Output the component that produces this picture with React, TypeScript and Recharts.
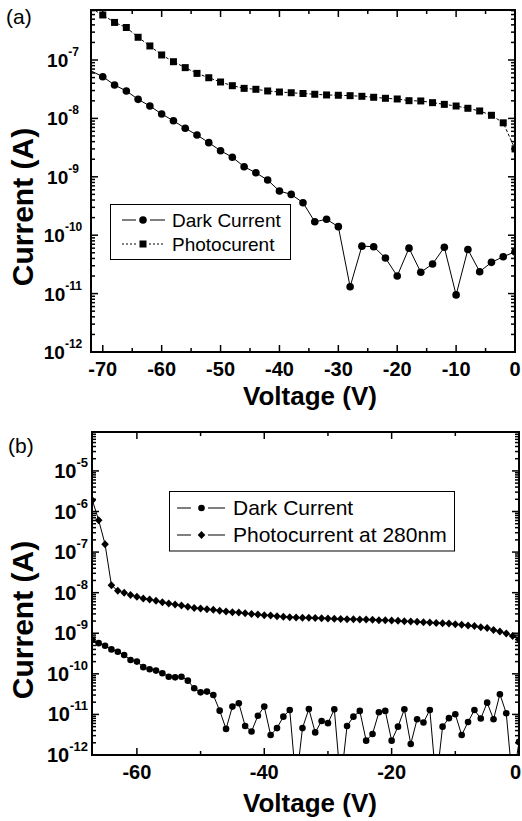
import React from 'react';
import { LineChart, Line, XAxis, YAxis } from 'recharts';

const FONT = "'Liberation Sans', Arial, Helvetica, sans-serif";

// ---------- Panel (a) ----------
const voltageA = [-72, -70, -68, -66, -64, -62, -60, -58, -56, -54, -52, -50, -48, -46, -44, -42, -40, -38, -36, -34, -32, -30, -28, -26, -24, -22, -20, -18, -16, -14, -12, -10, -8, -6, -4, -2, 0];
const darkCurrentA = [6.5e-8, 5.18e-8, 3.73e-8, 2.95e-8, 2.12e-8, 1.63e-8, 1.19e-8, 9.1e-9, 6.77e-9, 5.2e-9, 3.84e-9, 2.8e-9, 2.16e-9, 1.49e-9, 1.17e-9, 8.8e-10, 5.7e-10, 5.0e-10, 3.6e-10, 1.7e-10, 1.87e-10, 1.4e-10, 1.31e-11, 6.5e-11, 6.36e-11, 4.07e-11, 2.0e-11, 6.0e-11, 2.32e-11, 3.21e-11, 6.2e-11, 9.5e-12, 5.7e-11, 2.37e-11, 3.43e-11, 4.28e-11, 5.2e-11];
const photocurrentA = [7.7e-7, 5.9e-7, 4.4e-7, 3.6e-7, 2.45e-7, 1.74e-7, 1.22e-7, 9.35e-8, 7.4e-8, 5.9e-8, 4.97e-8, 4.2e-8, 3.63e-8, 3.27e-8, 3.15e-8, 2.95e-8, 2.83e-8, 2.75e-8, 2.67e-8, 2.59e-8, 2.52e-8, 2.49e-8, 2.45e-8, 2.39e-8, 2.3e-8, 2.21e-8, 2.15e-8, 2.01e-8, 1.99e-8, 1.86e-8, 1.74e-8, 1.63e-8, 1.49e-8, 1.34e-8, 1.13e-8, 8.4e-9, 3.0e-9];
const xMajorA = [-70, -60, -50, -40, -30, -20, -10, 0];
const xMinorA = [-65, -55, -45, -35, -25, -15, -5];
const yMajorA = [1e-12, 1e-11, 1e-10, 1e-9, 1e-8, 1e-7];
const domainXA: [number, number] = [-72, 0];
const domainYA: [number, number] = [1e-12, 7.18e-7];

// ---------- Panel (b) ----------
const voltageB = [-67, -66, -65, -64, -63, -62, -61, -60, -59, -58, -57, -56, -55, -54, -53, -52, -51, -50, -49, -48, -47, -46, -45, -44, -43, -42, -41, -40, -39, -38, -37, -36, -35, -34, -33, -32, -31, -30, -29, -28, -27, -26, -25, -24, -23, -22, -21, -20, -19, -18, -17, -16, -15, -14, -13, -12, -11, -10, -9, -8, -7, -6, -5, -4, -3, -2, -1, 0];
const darkCurrentB = [6.8e-10, 5.7e-10, 4.9e-10, 4.0e-10, 3.5e-10, 2.9e-10, 2.2e-10, 2.0e-10, 1.46e-10, 1.3e-10, 1.2e-10, 1.03e-10, 8.5e-11, 8.2e-11, 8.5e-11, 6.8e-11, 4.4e-11, 3.5e-11, 3.65e-11, 3.0e-11, 1.24e-11, 4.4e-12, 1.56e-11, 1.89e-11, 5.2e-12, 3.8e-12, 9.3e-12, 1.56e-11, 3.1e-12, 4.6e-12, 8.8e-12, 1.29e-11, 2e-13, 4.6e-12, 1.36e-11, 3.6e-12, 6.9e-12, 6.1e-12, 1.34e-11, 2e-13, 5.2e-12, 8.8e-12, 1.22e-11, 2.26e-12, 3.3e-12, 1.13e-11, 1.22e-11, 2.26e-12, 5.0e-12, 1.34e-11, 1.87e-12, 7.6e-12, 6.3e-12, 1.29e-11, 2e-13, 5.0e-12, 8.1e-12, 1.01e-11, 3.1e-12, 6.5e-12, 1.29e-11, 7.9e-12, 1.95e-11, 7.6e-12, 3.15e-11, 1.07e-11, 2e-13, 2.1e-12];
const photocurrentB = [1.9e-6, 6.1e-7, 1.57e-7, 1.53e-8, 1.11e-8, 9.9e-9, 8.8e-9, 7.9e-9, 7.2e-9, 6.8e-9, 6.3e-9, 5.8e-9, 5.4e-9, 5.1e-9, 4.8e-9, 4.5e-9, 4.2e-9, 4.1e-9, 3.9e-9, 3.77e-9, 3.56e-9, 3.44e-9, 3.31e-9, 3.25e-9, 3.12e-9, 3.0e-9, 2.9e-9, 2.79e-9, 2.74e-9, 2.64e-9, 2.54e-9, 2.49e-9, 2.45e-9, 2.42e-9, 2.4e-9, 2.36e-9, 2.33e-9, 2.32e-9, 2.27e-9, 2.25e-9, 2.22e-9, 2.2e-9, 2.19e-9, 2.17e-9, 2.14e-9, 2.1e-9, 2.08e-9, 2.06e-9, 2.02e-9, 1.98e-9, 1.95e-9, 1.91e-9, 1.88e-9, 1.84e-9, 1.8e-9, 1.77e-9, 1.74e-9, 1.67e-9, 1.61e-9, 1.56e-9, 1.5e-9, 1.41e-9, 1.34e-9, 1.21e-9, 1.11e-9, 9.9e-10, 8.5e-10, 7.0e-10];
const xMajorB = [-60, -40, -20, 0];
const xMinorB = [-50, -30, -10];
const yMajorB = [1e-12, 1e-11, 1e-10, 1e-9, 1e-8, 1e-7, 1e-6, 1e-5];
const domainXB: [number, number] = [-67.05, 0];
const domainYB: [number, number] = [1e-12, 9.1e-5];

const dataA = voltageA.map((v, i) => ({ v, dark: darkCurrentA[i], photo: photocurrentA[i] }));
const dataB = voltageB.map((v, i) => ({ v, dark: darkCurrentB[i], photo: photocurrentB[i] }));

function logTicks(majors: number[], top: number) {
  const out: number[] = [];
  majors.forEach((m) => {
    out.push(m);
    for (let k = 2; k <= 9; k++) {
      const val = Number((k * m).toPrecision(3));
      if (val < top) out.push(val);
    }
  });
  return out;
}

const isMajorLog = (v: number) => {
  const lg = Math.log10(v);
  return Math.abs(lg - Math.round(lg)) < 1e-6;
};

const AXIS_LINE = { stroke: '#000', strokeWidth: 2, strokeLinecap: 'square' as const };

function xTick(majors: number[], where: 'bottom' | 'top', fontSize: number) {
  return (p: any) => {
    const v = p.payload.value;
    const maj = majors.includes(v);
    const len = maj ? 7 : 4;
    const dir = where === 'bottom' ? -1 : 1;
    // keep the label inside the 522px page
    const half = String(v).length * fontSize * 0.3;
    const nearEdge = p.x + half > 521;
    return (
      <g key={`xt-${where}-${v}`}>
        <line x1={p.x} x2={p.x} y1={p.y} y2={p.y + dir * len} stroke="#000" strokeWidth={1.5} />
        {where === 'bottom' && maj ? (
          <text x={nearEdge ? 521 : p.x} y={p.y + 24} textAnchor={nearEdge ? 'end' : 'middle'} fontFamily={FONT}
            fontWeight="bold" fontSize={fontSize} fill="#000">
            {String(v)}
          </text>
        ) : null}
      </g>
    );
  };
}

function yTick(where: 'left' | 'right', labelX: number, anchor: 'middle' | 'end', big: number, small: number) {
  return (p: any) => {
    const v = p.payload.value;
    const maj = isMajorLog(v);
    const len = maj ? 7 : 4;
    const dir = where === 'left' ? 1 : -1;
    return (
      <g key={`yt-${where}-${v}`}>
        <line x1={p.x} x2={p.x + dir * len} y1={p.y} y2={p.y} stroke="#000" strokeWidth={1.5} />
        {where === 'left' && maj ? (
          <text x={labelX} y={p.y + 7} textAnchor={anchor} fontFamily={FONT} fontWeight="bold" fill="#000">
            <tspan fontSize={big}>10</tspan>
            <tspan fontSize={small} dy={-11}>{String(Math.round(Math.log10(v)))}</tspan>
          </text>
        ) : null}
      </g>
    );
  };
}

function circleDot(r: number, hideBelow: number) {
  return (p: any) => {
    const k = `c-${p.index}`;
    if (p.cx == null || p.cy == null || p.payload.v < hideBelow) return <g key={k} />;
    return <circle key={k} cx={p.cx} cy={p.cy} r={r} fill="#000" />;
  };
}
function squareDot(s: number, hideBelow: number) {
  return (p: any) => {
    const k = `s-${p.index}`;
    if (p.cx == null || p.cy == null || p.payload.v < hideBelow) return <g key={k} />;
    return <rect key={k} x={p.cx - s / 2} y={p.cy - s / 2} width={s} height={s} fill="#000" />;
  };
}
function diamondDot(w: number, h: number) {
  return (p: any) => {
    const k = `d-${p.index}`;
    if (p.cx == null || p.cy == null) return <g key={k} />;
    const pts = `${p.cx},${p.cy - h} ${p.cx + w},${p.cy} ${p.cx},${p.cy + h} ${p.cx - w},${p.cy}`;
    return <polygon key={k} points={pts} fill="#000" />;
  };
}

const yTicksA = logTicks(yMajorA, domainYA[1]);
const yTicksB = logTicks(yMajorB, domainYB[1]);
const xTicksA = [...xMajorA, ...xMinorA].sort((a, b) => a - b);
const xTicksB = [...xMajorB, ...xMinorB].sort((a, b) => a - b);

function ChartA() {
  return (
    <LineChart width={522} height={410} data={dataA} margin={{ top: 0, right: 0, bottom: 0, left: 0 }}>
      <XAxis xAxisId="b" dataKey="v" type="number" domain={domainXA} allowDataOverflow ticks={xTicksA} interval={0}
        tickLine={false} tickSize={0} tickMargin={0} axisLine={AXIS_LINE} tick={xTick(xMajorA, 'bottom', 20)} height={58} />
      <XAxis xAxisId="t" orientation="top" dataKey="v" type="number" domain={domainXA} allowDataOverflow ticks={xTicksA} interval={0}
        tickLine={false} tickSize={0} tickMargin={0} axisLine={AXIS_LINE} tick={xTick(xMajorA, 'top', 20)} height={10} />
      <YAxis yAxisId="l" type="number" scale="log" domain={domainYA} allowDataOverflow ticks={yTicksA} interval={0}
        tickLine={false} tickSize={0} tickMargin={0} axisLine={AXIS_LINE} tick={yTick('left', 63, 'middle', 19, 12)} width={91} />
      <YAxis yAxisId="r" orientation="right" type="number" scale="log" domain={domainYA} allowDataOverflow ticks={yTicksA} interval={0}
        tickLine={false} tickSize={0} tickMargin={0} axisLine={AXIS_LINE} tick={yTick('right', 0, 'end', 19, 12)} width={7} />
      <Line xAxisId="b" yAxisId="l" dataKey="photo" stroke="#000" strokeWidth={1} strokeDasharray="3 2"
        dot={squareDot(7, -71)} activeDot={false} isAnimationActive={false} />
      <Line xAxisId="b" yAxisId="l" dataKey="dark" stroke="#000" strokeWidth={1}
        dot={circleDot(3.8, -71)} activeDot={false} isAnimationActive={false} />
    </LineChart>
  );
}

function ChartB() {
  return (
    <LineChart width={522} height={401} data={dataB} margin={{ top: 0, right: 0, bottom: 0, left: 0 }}>
      <XAxis xAxisId="b" dataKey="v" type="number" domain={domainXB} allowDataOverflow ticks={xTicksB} interval={0}
        tickLine={false} tickSize={0} tickMargin={0} axisLine={AXIS_LINE} tick={xTick(xMajorB, 'bottom', 20)} height={66} />
      <XAxis xAxisId="t" orientation="top" dataKey="v" type="number" domain={domainXB} allowDataOverflow ticks={xTicksB} interval={0}
        tickLine={false} tickSize={0} tickMargin={0} axisLine={AXIS_LINE} tick={xTick(xMajorB, 'top', 20)} height={12} />
      <YAxis yAxisId="l" type="number" scale="log" domain={domainYB} allowDataOverflow ticks={yTicksB} interval={0}
        tickLine={false} tickSize={0} tickMargin={0} axisLine={AXIS_LINE} tick={yTick('left', 88, 'end', 20, 13)} width={92} />
      <YAxis yAxisId="r" orientation="right" type="number" scale="log" domain={domainYB} allowDataOverflow ticks={yTicksB} interval={0}
        tickLine={false} tickSize={0} tickMargin={0} axisLine={AXIS_LINE} tick={yTick('right', 0, 'end', 20, 13)} width={3} />
      <Line xAxisId="b" yAxisId="l" dataKey="photo" stroke="#000" strokeWidth={1}
        dot={diamondDot(3.8, 4)} activeDot={false} isAnimationActive={false} />
      <Line xAxisId="b" yAxisId="l" dataKey="dark" stroke="#000" strokeWidth={1}
        dot={circleDot(3.3, -999)} activeDot={false} isAnimationActive={false} />
    </LineChart>
  );
}

function Overlay() {
  const t = { fontFamily: FONT, fill: '#000' };
  return (
    <svg width={522} height={821} style={{ position: 'absolute', left: 0, top: 0, pointerEvents: 'none' }}>
      <text x={6} y={24} fontSize={21} {...t}>(a)</text>
      <text x={8} y={453} fontSize={21} {...t}>(b)</text>
      <text transform="translate(33,207) rotate(-90)" textAnchor="middle" fontSize={30} fontWeight="bold" {...t}>Current (A)</text>
      <text transform="translate(33,620) rotate(-90)" textAnchor="middle" fontSize={30} fontWeight="bold" {...t}>Current (A)</text>
      <text x={310} y={405} textAnchor="middle" fontSize={26} fontWeight="bold" {...t}>Voltage (V)</text>
      <text x={310} y={812} textAnchor="middle" fontSize={26} fontWeight="bold" {...t}>Voltage (V)</text>

      {/* legend (a) */}
      <rect x={110.5} y={204.5} width={180} height={55} fill="#fff" stroke="#000" strokeWidth={1} />
      <line x1={122} x2={136} y1={220} y2={220} stroke="#000" strokeWidth={1} />
      <line x1={150} x2={165} y1={220} y2={220} stroke="#000" strokeWidth={1} />
      <circle cx={143} cy={220} r={3.8} fill="#000" />
      <text x={172} y={227} fontSize={19} {...t}>Dark Current</text>
      <line x1={122} x2={137} y1={244} y2={244} stroke="#000" strokeWidth={1} strokeDasharray="2 2" />
      <line x1={149} x2={165} y1={244} y2={244} stroke="#000" strokeWidth={1} strokeDasharray="2 2" />
      <rect x={139.5} y={240.5} width={7} height={7} fill="#000" />
      <text x={172} y={251} fontSize={19} {...t}>Photocurent</text>

      {/* legend (b) */}
      <rect x={169.5} y={491.5} width={285} height={59.5} fill="#fff" stroke="#000" strokeWidth={1} />
      <line x1={177} x2={191} y1={508} y2={508} stroke="#000" strokeWidth={1} />
      <line x1={208} x2={225} y1={508} y2={508} stroke="#000" strokeWidth={1} />
      <circle cx={201.5} cy={508} r={3.3} fill="#000" />
      <text x={233} y={515} fontSize={21} {...t}>Dark Current</text>
      <line x1={177} x2={191} y1={535} y2={535} stroke="#000" strokeWidth={1} />
      <line x1={208} x2={225} y1={535} y2={535} stroke="#000" strokeWidth={1} />
      <polygon points="201.5,531 205.3,535 201.5,539 197.7,535" fill="#000" />
      <text x={233} y={542} fontSize={21} {...t}>Photocurrent at 280nm</text>
    </svg>
  );
}

export default function App() {
  return (
    <div style={{ position: 'absolute', left: 0, top: 0, width: 522, height: 821, background: '#fff' }}>
      <div style={{ position: 'absolute', left: 0, top: 0 }}>
        <ChartA />
      </div>
      <div style={{ position: 'absolute', left: 0, top: 420 }}>
        <ChartB />
      </div>
      <Overlay />
    </div>
  );
}
